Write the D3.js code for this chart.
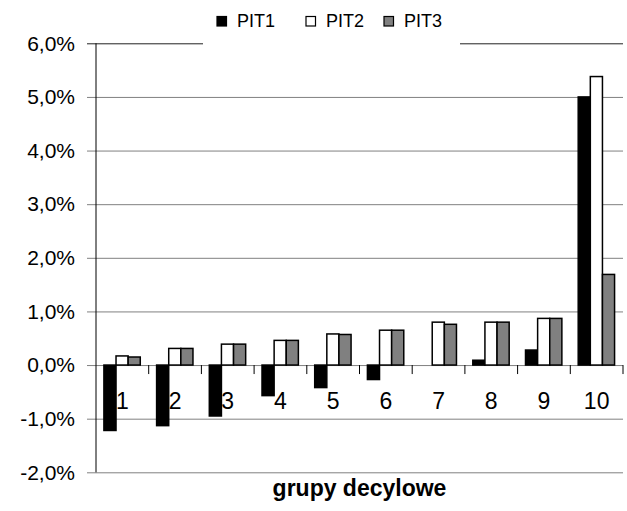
<!DOCTYPE html>
<html>
<head>
<meta charset="utf-8">
<script src="https://cdn.jsdelivr.net/npm/d3@7"></script>
<style>
body { margin: 0; background: #fff; }
text { font-family: "Liberation Sans", Arial, sans-serif; }
</style>
</head>
<body>
<div id="chart-area"></div>
<script>
// data (percent)
var groups = ["1", "2", "3", "4", "5", "6", "7", "8", "9", "10"];
var seriesNames = ["PIT1", "PIT2", "PIT3"];
var pit1 = [-1.22, -1.13, -0.95, -0.57, -0.42, -0.27, 0.0, 0.09, 0.28, 5.0];
var pit2 = [0.17, 0.31, 0.39, 0.46, 0.58, 0.65, 0.80, 0.80, 0.87, 5.38];
var pit3 = [0.15, 0.31, 0.39, 0.46, 0.57, 0.65, 0.76, 0.80, 0.87, 1.69];
var yTicks = [-2, -1, 0, 1, 2, 3, 4, 5, 6];
var colors = ["#000000", "#ffffff", "#808080"];
var xTitle = "grupy decylowe";

var margin = {left: 96, right: 4, top: 43.3, bottom: 38.7};
var W = 627, H = 511;
var width = W - margin.left - margin.right;
var height = H - margin.top - margin.bottom;

var svg = d3.select("#chart-area")
    .append("svg")
        .attr("width", W)
        .attr("height", H);

var g = svg.append("g")
    .attr("transform", "translate(" + margin.left + ", " + margin.top + ")");

var x0 = d3.scaleBand()
    .domain(groups)
    .range([0, width]);

var x1 = d3.scaleBand()
    .domain(seriesNames)
    .range([x0.bandwidth() * 0.15, x0.bandwidth() * 0.84]);

var y = d3.scaleLinear()
    .domain([-2, 6])
    .range([height, 0]);

var fmt = function(d) {
    return (d < 0 ? "-" : "") + Math.abs(d).toFixed(1).replace(".", ",") + "%";
};

// y axis with gridlines
var yAxis = d3.axisLeft(y)
    .tickValues(yTicks)
    .tickSize(-width)
    .tickPadding(21)
    .tickFormat(fmt);

var ya = g.append("g")
    .attr("class", "left axis")
    .call(yAxis);
ya.select(".domain").remove();
ya.selectAll("line")
    .attr("x1", -9)
    .attr("stroke", (d) => d === 6 ? "#222" : "#808080");
ya.selectAll("text")
    .attr("x", -21)
    .attr("font-size", "21px")
    .attr("fill", "#000")
    .attr("font-family", "'Liberation Sans', Arial, sans-serif");

// bars
var table = groups.map((grp, i) => {
    return {group: grp, values: [pit1[i], pit2[i], pit3[i]]};
});

var groupsG = g.selectAll(".grp").data(table)
    .enter().append("g")
    .attr("class", "grp")
    .attr("transform", (d) => "translate(" + x0(d.group) + ",0)");

groupsG.selectAll("rect")
    .data((d) => d.values.map((v, j) => ({name: seriesNames[j], value: v, j: j})))
    .enter().append("rect")
    .attr("x", (d) => x1(d.name))
    .attr("y", (d) => y(Math.max(0, d.value)))
    .attr("width", x1.bandwidth())
    .attr("height", (d) => Math.abs(y(d.value) - y(0)))
    .attr("fill", (d) => colors[d.j])
    .attr("stroke", "#000")
    .attr("stroke-width", 1.5);

// category ticks on zero line
g.selectAll(".xtick").data(groups)
    .enter().append("line")
    .attr("class", "xtick")
    .attr("x1", (d) => x0(d) + x0.bandwidth())
    .attr("x2", (d) => x0(d) + x0.bandwidth())
    .attr("y1", y(0))
    .attr("y2", y(0) + 9)
    .attr("stroke", "#000")
    .attr("stroke-width", 1);

// category labels
g.selectAll(".xlab").data(groups)
    .enter().append("text")
    .attr("class", "xlab")
    .attr("x", (d) => x0(d) + x0.bandwidth() / 2)
    .attr("y", y(0) + 44)
    .attr("text-anchor", "middle")
    .attr("font-size", "23px")
    .text((d) => d);

// y axis line
g.append("line")
    .attr("x1", 0).attr("x2", 0)
    .attr("y1", 0).attr("y2", height)
    .attr("stroke", "#000")
    .attr("stroke-width", 1);

// x axis title
g.append("text")
    .attr("x", width / 2)
    .attr("y", height + 24)
    .attr("text-anchor", "middle")
    .attr("font-size", "23px")
    .attr("font-weight", "bold")
    .text(xTitle);

// legend
var legend = svg.append("g").attr("class", "legend");
legend.append("rect")
    .attr("x", 203).attr("y", 6)
    .attr("width", 257).attr("height", 42)
    .attr("fill", "#fff");

var legendX = [217, 306, 384];
seriesNames.forEach((s, i) => {
    legend.append("rect")
        .attr("x", legendX[i]).attr("y", 16.5)
        .attr("width", 9.5).attr("height", 9.5)
        .attr("fill", colors[i])
        .attr("stroke", "#000")
        .attr("stroke-width", 1.2);
    legend.append("text")
        .attr("x", legendX[i] + 20)
        .attr("y", 27.3)
        .attr("font-size", "18px")
        .text(s);
});
</script>
</body>
</html>
